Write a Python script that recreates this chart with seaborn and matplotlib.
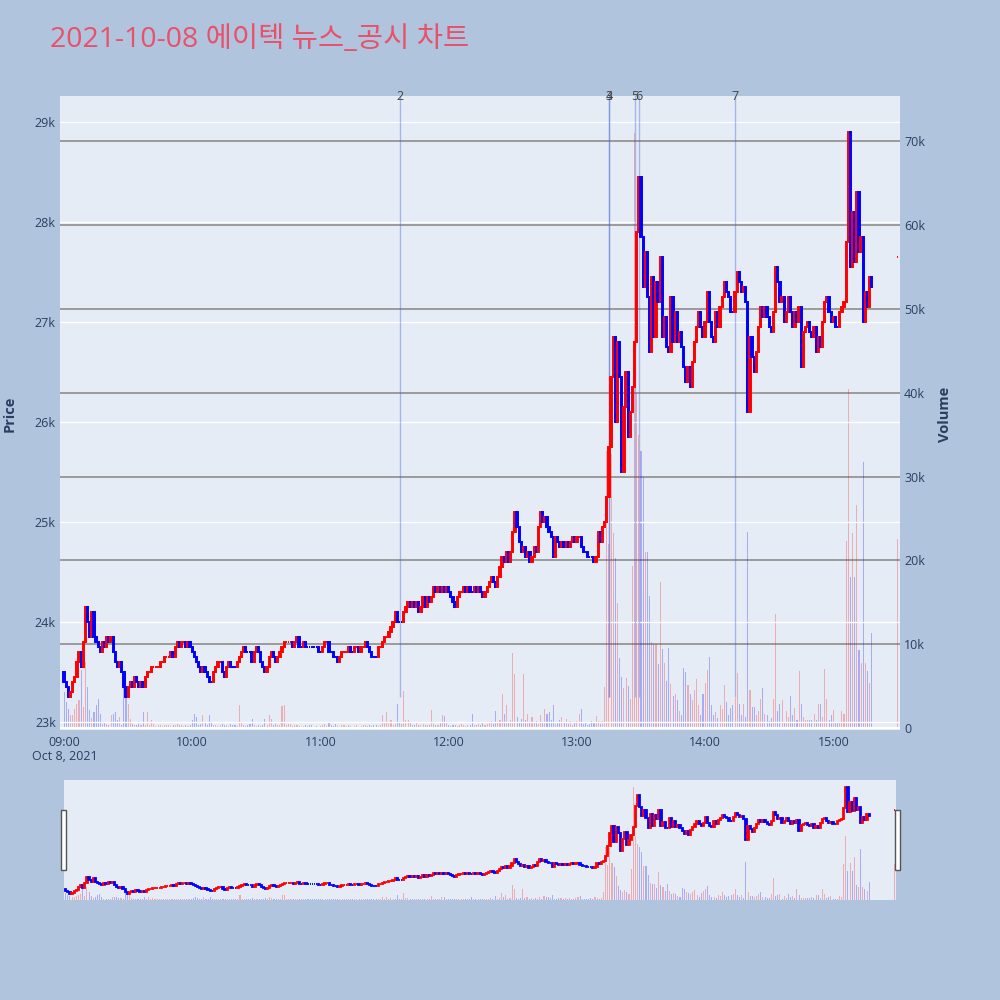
import numpy as np
import pandas as pd
import seaborn as sns
import matplotlib.pyplot as plt
import matplotlib.transforms as mtransforms
from matplotlib.patches import Rectangle

title = '2021-10-08 에이텍 뉴스_공시 차트'

# 1-minute candles from 09:00, open of each bar = previous close
first_open = 23500
close = [
    23400, 23350, 23250, 23300, 23400, 23450, 23600, 23700, 23550, 23800,
    24150, 24000, 23850, 24100, 23850, 23800, 23750, 23700, 23800, 23750,
    23850, 23800, 23850, 23700, 23600, 23550, 23600, 23500, 23350, 23250,
    23350, 23400, 23350, 23450, 23400, 23350, 23400, 23350, 23450, 23500,
    23500, 23550, 23550, 23550, 23550, 23600, 23600, 23650, 23650, 23650,
    23700, 23650, 23750, 23800, 23750, 23800, 23800, 23750, 23800, 23750,
    23700, 23650, 23600, 23550, 23500, 23550, 23500, 23450, 23400, 23400,
    23500, 23550, 23600, 23600, 23500, 23450, 23550, 23600, 23550, 23550,
    23550, 23600, 23650, 23700, 23750, 23700, 23700, 23700, 23600, 23700,
    23750, 23700, 23600, 23550, 23500, 23550, 23650, 23700, 23650, 23600,
    23650, 23700, 23750, 23800, 23800, 23800, 23800, 23750, 23800, 23850,
    23750, 23750, 23800, 23750, 23750, 23750, 23750, 23750, 23750, 23700,
    23700, 23750, 23800, 23800, 23700, 23700, 23650, 23650, 23600, 23650,
    23700, 23700, 23700, 23750, 23700, 23700, 23750, 23750, 23700, 23750,
    23750, 23800, 23750, 23700, 23650, 23650, 23650, 23750, 23750, 23800,
    23850, 23850, 23900, 23950, 24000, 24100, 24000, 24000, 24000, 24100,
    24150, 24200, 24150, 24200, 24150, 24200, 24100, 24150, 24250, 24150,
    24250, 24200, 24250, 24350, 24300, 24350, 24300, 24350, 24300, 24350,
    24300, 24250, 24200, 24150, 24250, 24300, 24300, 24350, 24300, 24350,
    24300, 24300, 24350, 24300, 24350, 24300, 24250, 24300, 24350, 24400,
    24450, 24400, 24350, 24450, 24550, 24650, 24600, 24700, 24600, 24700,
    24900, 25100, 24950, 24800, 24700, 24750, 24650, 24700, 24600, 24650,
    24750, 24700, 24950, 25100, 25000, 25050, 24950, 24900, 24850, 24650,
    24850, 24800, 24750, 24800, 24750, 24800, 24750, 24800, 24850, 24800,
    24850, 24850, 24750, 24700, 24700, 24650, 24650, 24650, 24600, 24650,
    24900, 24800, 24950, 25000, 25250, 25750, 26450, 26850, 26000, 26800,
    26450, 25500, 26150, 26500, 25850, 26100, 26350, 26800, 27900, 28450,
    27850, 27350, 27700, 27250, 26700, 27450, 26850, 27400, 27200, 27650,
    26850, 27050, 26750, 26700, 27250, 26800, 27100, 26800, 26900, 26750,
    26550, 26400, 26550, 26350, 26600, 26800, 26950, 27100, 26950, 26850,
    27000, 27300, 27000, 26850, 26800, 27100, 26950, 27150, 27250, 27400,
    27300, 27250, 27100, 27100, 27300, 27500, 27400, 27300, 27350, 27200,
    26100, 26850, 26650, 26500, 26700, 26950, 27150, 27050, 27150, 27050,
    26950, 26900, 27100, 27550, 27400, 27200, 27250, 27000, 27100, 27250,
    27100, 26950, 27100, 27000, 27150, 26550, 26900, 26950, 27000, 26900,
    26850, 26950, 26700, 26850, 26750, 27000, 27200, 27250, 27100, 27000,
    27050, 26950, 26950, 27100, 27150, 27200, 27800, 28900, 27550, 28100,
    27600, 28300, 27700, 27850, 27000, 27300, 27150, 27450, 27350,
]
volume = [
    4300, 3100, 2300, 1600, 1600, 2300, 2900, 3300, 6900, 2500,
    7900, 4900, 2100, 1200, 1900, 2700, 3500, 1700, 500, 700,
    500, 300, 1500, 1700, 1900, 900, 1300, 400, 6300, 4300,
    2900, 1100, 500, 300, 400, 500, 300, 1900, 400, 1900,
    300, 900, 500, 200, 300, 300, 200, 300, 400, 300,
    200, 300, 400, 500, 300, 300, 200, 300, 200, 400,
    900, 1700, 1300, 400, 500, 1500, 700, 300, 1500, 700,
    400, 300, 200, 300, 500, 400, 300, 200, 500, 300,
    300, 200, 2700, 700, 300, 200, 400, 500, 1100, 300,
    200, 300, 200, 400, 1100, 300, 1500, 1100, 400, 500,
    300, 300, 2600, 2700, 400, 500, 500, 200, 300, 300,
    200, 100, 200, 300, 200, 300, 300, 100, 200, 100,
    200, 300, 500, 200, 700, 300, 200, 500, 200, 100,
    300, 400, 200, 300, 200, 100, 200, 300, 100, 200,
    300, 400, 200, 300, 200, 400, 300, 200, 300, 1550,
    600, 1950, 500, 960, 400, 500, 2900, 600, 500, 4400,
    1000, 900, 600, 400, 300, 700, 400, 300, 500, 300,
    400, 300, 2200, 500, 300, 400, 600, 1600, 1400, 600,
    300, 200, 400, 300, 200, 300, 500, 300, 200, 400,
    300, 1700, 400, 300, 500, 400, 700, 300, 500, 600,
    800, 500, 2000, 700, 900, 4100, 1700, 2700, 600, 900,
    8900, 6500, 1300, 700, 1100, 6500, 900, 1700, 700, 1300,
    600, 800, 500, 1500, 700, 2300, 1700, 1900, 900, 2700,
    500, 600, 900, 1300, 700, 1100, 500, 800, 400, 600,
    800, 1700, 2300, 500, 600, 400, 500, 800, 600, 1400,
    800, 500, 800, 4900, 33000, 22000, 32700, 23300, 20300, 14900,
    8300, 6100, 4800, 6000, 5000, 3500, 19300, 71000, 40000, 35000,
    33000, 30000, 21000, 21000, 15700, 10300, 10000, 10000, 7600, 17400,
    9400, 7700, 5600, 9600, 5300, 3800, 4000, 3300, 2000, 1500,
    7100, 6700, 5100, 4000, 3300, 4500, 5800, 2700, 1500, 4000,
    5400, 6900, 8500, 2700, 1500, 1900, 1200, 2700, 2300, 5100,
    3100, 1500, 2400, 2700, 3600, 6600, 2900, 1500, 2900, 1300,
    23400, 4500, 2500, 2500, 1500, 2000, 3400, 4800, 1700, 1500,
    800, 1200, 3400, 13600, 2000, 2900, 3300, 700, 2000, 1300,
    3800, 1500, 2400, 1000, 6800, 2900, 1300, 1000, 1000, 1000,
    1000, 1700, 1000, 2900, 2900, 1300, 7000, 3400, 1000, 1500,
    2200, 700, 700, 700, 2000, 1700, 22300, 40400, 18000, 23300,
    18000, 26600, 9300, 7800, 31700, 7800, 6800, 5400, 11300,
]

# closing auction print
auction_time = '15:30'
auction_price = 27650
auction_volume = 22500

news_labels = ['2', '3', '4', '5', '6', '7']
news_times = ['11:37', '13:15', '13:15', '13:27', '13:29', '14:14']
news_line_bottom = 23250

time_ticks = ['09:00', '10:00', '11:00', '12:00', '13:00', '14:00', '15:00']
price_ticks = [23000, 24000, 25000, 26000, 27000, 28000, 29000]
volume_ticks = [0, 10000, 20000, 30000, 40000, 50000, 60000, 70000]


def to_minute(t):
    h, m = t.split(':')
    return (int(h) - 9) * 60 + int(m)


# build candle table
opens = [first_open] + close[:-1] + [auction_price]
closes = close + [auction_price]
minutes = list(range(len(close))) + [to_minute(auction_time)]
vols = volume + [auction_volume]

# plotly-style direction: doji compares with previous close / keeps previous direction
direction = []
prev_c = None
inc = True
for o, c in zip(opens, closes):
    if c != o:
        inc = c > o
    elif prev_c is not None and c != prev_c:
        inc = c > prev_c
    direction.append('up' if inc else 'down')
    prev_c = c

df = pd.DataFrame({'minute': minutes, 'open': opens, 'close': closes,
                   'volume': vols, 'direction': direction})
df['body_low'] = df[['open', 'close']].min(axis=1)
df['body_h'] = (df['close'] - df['open']).abs()

UP, DOWN = '#FF0000', '#0000FF'
pal = {'up': UP, 'down': DOWN}
df['color'] = df['direction'].map(pal)

sns.set_theme(style='darkgrid')
plt.rcParams['font.family'] = ['Open Sans', 'Noto Sans CJK KR', 'DejaVu Sans']
ink = '#2a3f5f'

fig = plt.figure(figsize=(10, 10), dpi=100)
fig.patch.set_facecolor('#B0C4DE')

xlim = (-1.9, 391.2)
plim = (22920, 29260)
vlim = (-240, 75400)


def draw_panel(ax_vol, ax_price, lw):
    ax_vol.set_facecolor('#E5ECF6')
    sns.histplot(data=df, x='minute', weights='volume', hue='direction',
                 discrete=True, shrink=0.5, palette=pal, alpha=0.27,
                 linewidth=0, legend=False, multiple='layer', ax=ax_vol)
    ax_vol.set_ylim(*vlim)
    ax_vol.set_xlim(*xlim)
    ax_price.bar(df['minute'], df['body_h'], bottom=df['body_low'], width=0.6,
                 color=df['color'], edgecolor=df['color'], linewidth=lw, zorder=3)
    ax_price.set_ylim(*plim)
    for a in (ax_vol, ax_price):
        for s in a.spines.values():
            s.set_visible(False)
        a.set_xlabel('')
        a.set_ylabel('')


# main chart
ax_vol = fig.add_axes([0.06, 0.27, 0.84, 0.634])
ax_price = ax_vol.twinx()
draw_panel(ax_vol, ax_price, lw=1.4)

ax_vol.yaxis.tick_right()
ax_vol.set_yticks(volume_ticks)
ax_vol.set_yticklabels(['0'] + [f'{v // 1000}k' for v in volume_ticks[1:]])
ax_vol.grid(axis='y', color='#9a9a9a', linewidth=1.4)
ax_vol.grid(axis='x', visible=False)
ax_vol.axhline(0, color='white', linewidth=1.6, zorder=1)
ax_vol.tick_params(axis='y', length=0, pad=3, labelsize=9, labelcolor=ink,
                   left=False, right=False, labelleft=False, labelright=True)
ax_vol.set_xticks([to_minute(t) for t in time_ticks])
ax_vol.set_xticklabels(time_ticks)
ax_vol.tick_params(axis='x', length=0, pad=4, labelsize=9, labelcolor=ink)

ax_price.yaxis.tick_left()
ax_price.set_yticks(price_ticks)
ax_price.set_yticklabels([f'{p // 1000}k' for p in price_ticks])
ax_price.grid(axis='y', color='white', linewidth=1.0)
ax_price.grid(axis='x', visible=False)
ax_price.tick_params(axis='y', length=0, pad=3, labelsize=9, labelcolor=ink,
                     left=False, right=False, labelleft=True, labelright=False)
ax_price.set_xlim(*xlim)

# news / disclosure markers
trans = mtransforms.blended_transform_factory(ax_price.transData, ax_price.transAxes)
for lab, t in zip(news_labels, news_times):
    m = to_minute(t)
    ax_price.vlines(m, news_line_bottom, plim[1] + 200, colors='#4a66d8',
                    linewidth=1.0, alpha=0.4, zorder=2)
    ax_price.text(m, 1.0, lab, transform=trans, ha='center', va='center',
                  fontsize=9, color='#444444', clip_on=False)

fig.text(0.065, 0.243, 'Oct 8, 2021', ha='center', va='center', fontsize=9, color=ink)
fig.text(0.05, 0.96, title, ha='left', va='center', fontsize=20.5, color='#E9506A')
fig.text(0.01, 0.586, 'Price', rotation=90, ha='center', va='center',
         fontsize=10.5, fontweight='bold', color=ink)
fig.text(0.945, 0.586, 'Volume', rotation=90, ha='center', va='center',
         fontsize=10.5, fontweight='bold', color=ink)

# range slider
sl_vol = fig.add_axes([0.064, 0.10, 0.832, 0.12])
sl_price = sl_vol.twinx()
draw_panel(sl_vol, sl_price, lw=1.3)
for a in (sl_vol, sl_price):
    a.set_xlim(-0.8, 390.6)
    a.grid(False)
    a.set_xticks([])
    a.set_yticks([])
for hx in (0.0612, 0.8950):
    fig.patches.append(Rectangle((hx, 0.130), 0.0045, 0.060, transform=fig.transFigure,
                                 facecolor='white', edgecolor='#555555', linewidth=1.0))

fig.savefig('out.png', dpi=100, facecolor=fig.get_facecolor())
